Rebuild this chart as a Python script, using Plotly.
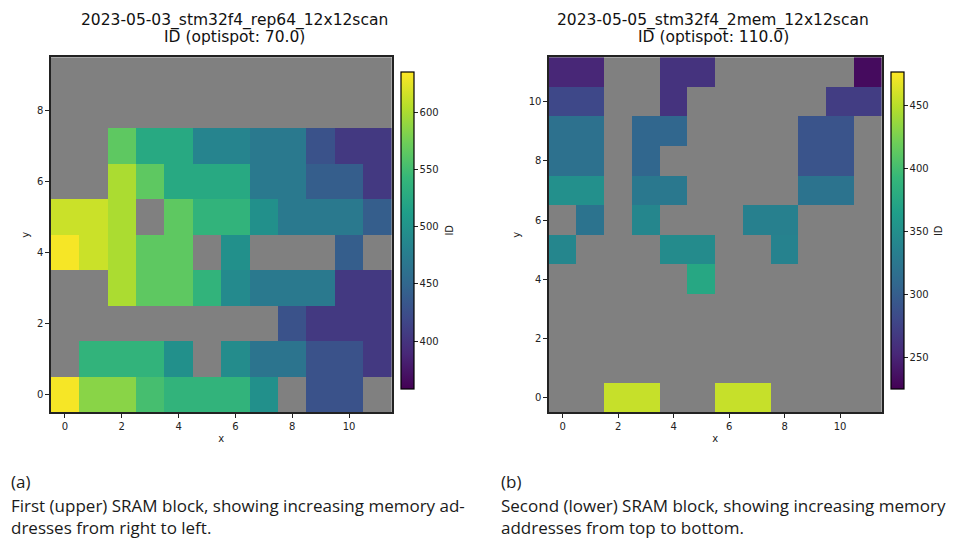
import plotly.graph_objects as go

N = None
# Panel (a): rows y = 0..9, columns x = 0..11
x_a = list(range(12))
y_a = list(range(10))
z_a = [
    [632, 585, 585, 552, 538, 538, 538, 497, N, 428, 428, N],     # y=0
    [N, 538, 538, 538, 497, N, 492, 465, 465, 428, 428, 405],     # y=1
    [N, N, N, N, N, N, N, N, 428, 405, 405, 405],                 # y=2
    [N, N, 600, 565, 565, 538, 490, 470, 470, 470, 405, 405],     # y=3
    [632, 613, 600, 565, 565, N, 497, N, N, N, 440, N],           # y=4
    [613, 613, 600, N, 565, 538, 538, 497, 470, 470, 470, 440],   # y=5
    [N, N, 600, 565, 525, 525, 525, 470, 470, 440, 440, 405],     # y=6
    [N, N, 565, 525, 525, 483, 483, 470, 470, 428, 405, 405],     # y=7
    [N] * 12,                                                     # y=8
    [N] * 12,                                                     # y=9
]
zmin_a, zmax_a = 358, 635
ticks_a = [400, 450, 500, 550, 600]

# Panel (b): rows y = 0..11
x_b = list(range(12))
y_b = list(range(12))
z_b = [
    [N, N, 455, 455, N, N, 455, 455, N, N, N, N],                 # y=0
    [N] * 12,                                                     # y=1
    [N] * 12,                                                     # y=2
    [N] * 12,                                                     # y=3
    [N, N, N, N, N, 375, N, N, N, N, N, N],                       # y=4
    [340, N, N, N, 345, 345, N, N, 336, N, N, N],                 # y=5
    [N, 320, N, 340, N, N, N, 334, 334, N, N, N],                 # y=6
    [350, 350, N, 326, 326, N, N, N, N, 320, 320, N],             # y=7
    [318, 318, N, 308, N, N, N, N, N, 290, 290, N],               # y=8
    [318, 318, N, 308, 308, N, N, N, N, 290, 290, N],             # y=9
    [280, 280, N, N, 262, N, N, N, N, N, 270, 270],               # y=10
    [252, 252, N, N, 262, 262, N, N, N, N, N, 232],               # y=11
]
zmin_b, zmax_b = 224.5, 476.5
ticks_b = [250, 300, 350, 400, 450]

W, H = 959, 538
tickfont = dict(family="DejaVu Sans", size=10, color="#222")
labfont = dict(family="DejaVu Sans", size=10, color="#222")

def px(x):
    return x / W

def py(y):
    return 1 - y / H

fig = go.Figure()

def cbar(x0, ticks):
    return dict(
        x=px(x0), xanchor="left", y=py((72.3 + 389) / 2), yanchor="middle",
        len=316.7, lenmode="pixels", thickness=13, thicknessmode="pixels",
        outlinecolor="black", outlinewidth=1.2, tickvals=ticks,
        ticks="outside", ticklen=3.5, tickcolor="#222", tickfont=tickfont,
        xpad=0, ypad=0,
    )

fig.add_trace(go.Heatmap(
    x=x_a, y=y_a, z=z_a, colorscale="Viridis", zmin=zmin_a, zmax=zmax_a,
    xaxis="x", yaxis="y", hoverongaps=False, colorbar=cbar(401, ticks_a),
))
fig.add_trace(go.Heatmap(
    x=x_b, y=y_b, z=z_b, colorscale="Viridis", zmin=zmin_b, zmax=zmax_b,
    xaxis="x2", yaxis="y2", hoverongaps=False, colorbar=cbar(891, ticks_b),
))

axis_common = dict(
    showgrid=False, zeroline=False, showline=True, linecolor="#222",
    linewidth=1.5, mirror=True, ticks="outside", ticklen=3.5, tickcolor="#222",
    tickfont=tickfont, dtick=2,
)

fig.update_layout(
    width=W, height=H, margin=dict(l=0, r=0, t=0, b=0),
    paper_bgcolor="white", plot_bgcolor="#808080",
    showlegend=False,
    xaxis=dict(domain=[px(50.7), px(391.7)], range=[-0.5, 11.5], anchor="y",
               title=dict(text="x", font=labfont, standoff=4), **axis_common),
    yaxis=dict(domain=[py(412.3), py(57.3)], range=[-0.5, 9.5], anchor="x",
               title=dict(text="y", font=labfont, standoff=6), **axis_common),
    xaxis2=dict(domain=[px(548.7), px(881.7)], range=[-0.5, 11.5], anchor="y2",
                title=dict(text="x", font=labfont, standoff=4), **axis_common),
    yaxis2=dict(domain=[py(412.3), py(57.3)], range=[-0.5, 11.5], anchor="x2",
                title=dict(text="y", font=labfont, standoff=6), **axis_common),
)

titlefont = dict(family="DejaVu Sans", size=15.5, color="#111")
capfont = dict(family="Open Sans", size=17, color="#1a1a1a")

titles = [
    ("2023-05-03_stm32f4_rep64_12x12scan", 234, 20),
    ("ID (optispot: 70.0)", 234, 37),
    ("2023-05-05_stm32f4_2mem_12x12scan", 713, 20),
    ("ID (optispot: 110.0)", 713, 37),
]
for t, xx, yy in titles:
    fig.add_annotation(text=t, x=px(xx), y=py(yy), xref="paper", yref="paper",
                       xanchor="center", yanchor="middle", showarrow=False, font=titlefont)

for xx in (px(450), px(946)):
    fig.add_annotation(text="ID", x=xx, y=py(230.6), xref="paper", yref="paper",
                       showarrow=False, textangle=-90, font=labfont)

captions = [
    ("(a)", 9, 481), ("First (upper) SRAM block, showing increasing memory ad-", 9, 505),
    ("dresses from right to left.", 9, 527),
    ("(b)", 499, 481), ("Second (lower) SRAM block, showing increasing memory", 499, 505),
    ("addresses from top to bottom.", 499, 527),
]
for t, xx, yy in captions:
    fig.add_annotation(text=t, x=px(xx), y=py(yy), xref="paper", yref="paper",
                       xanchor="left", yanchor="middle", showarrow=False, font=capfont)

fig.write_html("out.html", config={"displayModeBar": False},
               post_script="document.body.style.margin='0';")
